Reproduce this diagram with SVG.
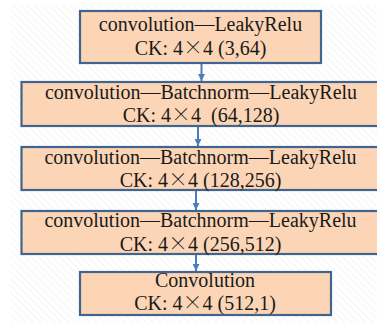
<svg xmlns="http://www.w3.org/2000/svg" width="377" height="323" viewBox="0 0 377 323">
<style>
.box{fill:#fbd5b5;stroke:#41658f;stroke-width:2.2}
.conn{stroke:#4a7ebb;stroke-width:2;fill:none}
</style>
<defs>
<pattern id="hatch" width="5" height="5" patternUnits="userSpaceOnUse" patternTransform="rotate(-45)">
<rect width="5" height="5" fill="#ffffff"/>
<line x1="0" y1="0" x2="0" y2="5" stroke="#f2f2f2" stroke-width="1.5"/>
</pattern>
<marker id="ah" markerWidth="8" markerHeight="7" refX="7" refY="3.5" orient="auto" markerUnits="userSpaceOnUse">
<path d="M0,0 L7,3.5 L0,7 Z" fill="#4a7ebb"/>
</marker>
</defs>
<rect width="377" height="323" fill="#ffffff"/>
<rect x="10" y="5" width="367" height="318" fill="url(#hatch)"/>
<g id="connectors">
<line class="conn" x1="201.5" y1="63" x2="201.5" y2="81" marker-end="url(#ah)"/>
<line class="conn" x1="198" y1="126" x2="198" y2="146" marker-end="url(#ah)"/>
<line class="conn" x1="196" y1="190" x2="196" y2="210" marker-end="url(#ah)"/>
<line class="conn" x1="196" y1="254" x2="196" y2="271" marker-end="url(#ah)"/>
</g>
<g id="node1">
<rect class="box" x="80" y="11" width="241" height="52"/>
<text x="200.5" y="31" font-family="Times New Roman, Liberation Serif, Tinos, serif" font-size="20" fill="#1a1a1a" text-anchor="middle">convolution—LeakyRelu</text>
<text x="200.5" y="55" font-family="Times New Roman, Liberation Serif, Tinos, serif" font-size="20" fill="#1a1a1a" text-anchor="middle">CK: 4<tspan font-family="Noto Serif CJK SC, serif">×</tspan>4 (3,64)</text>
</g>
<g id="node2">
<rect class="box" x="21.5" y="82" width="370" height="44"/>
<text x="201" y="99" font-family="Times New Roman, Liberation Serif, Tinos, serif" font-size="20" fill="#1a1a1a" text-anchor="middle">convolution—Batchnorm—LeakyRelu</text>
<text x="201" y="121.5" font-family="Times New Roman, Liberation Serif, Tinos, serif" font-size="20" fill="#1a1a1a" text-anchor="middle" xml:space="preserve">CK: 4<tspan font-family="Noto Serif CJK SC, serif">×</tspan>4  (64,128)</text>
</g>
<g id="node3">
<rect class="box" x="21.5" y="147" width="370" height="43"/>
<text x="200.5" y="163.5" font-family="Times New Roman, Liberation Serif, Tinos, serif" font-size="20" fill="#1a1a1a" text-anchor="middle">convolution—Batchnorm—LeakyRelu</text>
<text x="200.5" y="186.5" font-family="Times New Roman, Liberation Serif, Tinos, serif" font-size="20" fill="#1a1a1a" text-anchor="middle">CK: 4<tspan font-family="Noto Serif CJK SC, serif">×</tspan>4 (128,256)</text>
</g>
<g id="node4">
<rect class="box" x="21.5" y="211" width="370" height="43"/>
<text x="200.5" y="227" font-family="Times New Roman, Liberation Serif, Tinos, serif" font-size="20" fill="#1a1a1a" text-anchor="middle">convolution—Batchnorm—LeakyRelu</text>
<text x="200.5" y="250.5" font-family="Times New Roman, Liberation Serif, Tinos, serif" font-size="20" fill="#1a1a1a" text-anchor="middle">CK: 4<tspan font-family="Noto Serif CJK SC, serif">×</tspan>4 (256,512)</text>
</g>
<g id="node5">
<rect class="box" x="80" y="272" width="251" height="43"/>
<text x="205" y="287" font-family="Times New Roman, Liberation Serif, Tinos, serif" font-size="20" fill="#1a1a1a" text-anchor="middle">Convolution</text>
<text x="205" y="310" font-family="Times New Roman, Liberation Serif, Tinos, serif" font-size="20" fill="#1a1a1a" text-anchor="middle">CK: 4<tspan font-family="Noto Serif CJK SC, serif">×</tspan>4 (512,1)</text>
</g>
</svg>
